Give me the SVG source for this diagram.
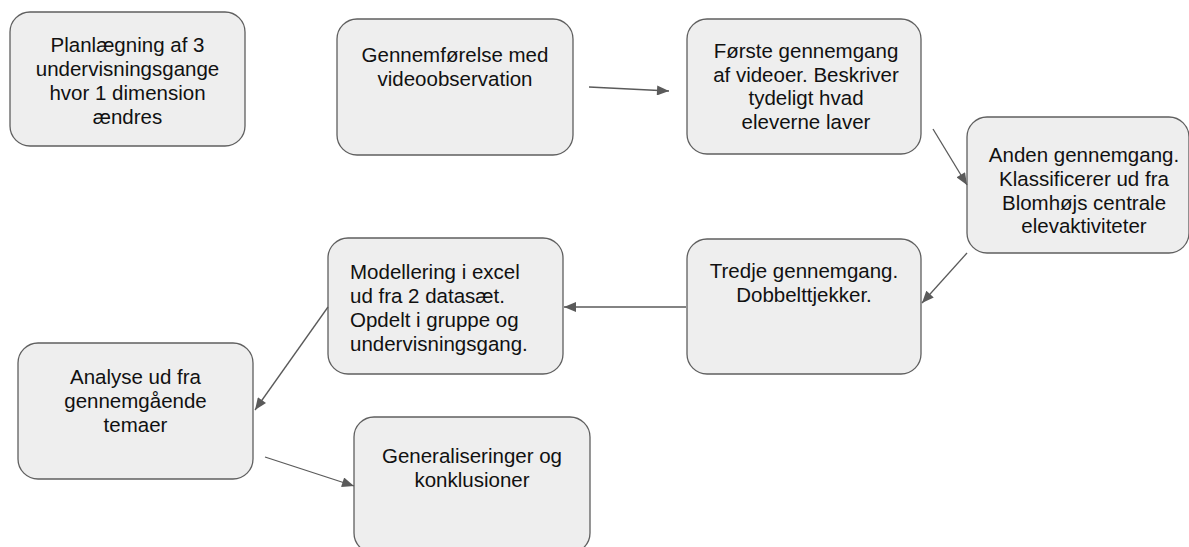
<svg xmlns="http://www.w3.org/2000/svg" width="1189" height="547" viewBox="0 0 1189 547">
<style>
.box{fill:#eeeeee;stroke:#5f5f5f;stroke-width:1.3}
.t{font-family:"Liberation Sans",Arial,sans-serif;font-size:20.5px;fill:#111111}
.c{text-anchor:middle}
.conn{stroke:#5a5a5a;stroke-width:1.3;fill:none;marker-end:url(#ah)}
</style>
<defs>
<marker id="ah" viewBox="0 0 12 10" refX="12" refY="5" markerWidth="13" markerHeight="10" orient="auto" markerUnits="userSpaceOnUse">
<path d="M0,0 L12,5 L0,10 Z" fill="#5a5a5a"/>
</marker>
</defs>
<rect width="1189" height="547" fill="#ffffff"/>
<g id="n1">
<rect class="box" x="10" y="12" width="235" height="134" rx="20"/>
<text class="t c" x="127.5"><tspan x="127.5" y="52">Planlægning af 3</tspan><tspan x="127.5" y="76">undervisningsgange</tspan><tspan x="127.5" y="100">hvor 1 dimension</tspan><tspan x="127.5" y="124">ændres</tspan></text>
</g>
<g id="n2">
<rect class="box" x="337" y="19" width="236" height="136" rx="20"/>
<text class="t c"><tspan x="455" y="62">Gennemførelse med</tspan><tspan x="455" y="86">videoobservation</tspan></text>
</g>
<g id="n3">
<rect class="box" x="687" y="19" width="234" height="135" rx="20"/>
<text class="t c"><tspan x="806" y="58">Første gennemgang</tspan><tspan x="806" y="81.5">af videoer. Beskriver</tspan><tspan x="806" y="105">tydeligt hvad</tspan><tspan x="806" y="128.5">eleverne laver</tspan></text>
</g>
<g id="n4">
<rect class="box" x="967" y="117" width="222" height="136" rx="20"/>
<text class="t c"><tspan x="1084" y="162">Anden gennemgang.</tspan><tspan x="1084" y="186">Klassificerer ud fra</tspan><tspan x="1084" y="209.5">Blomhøjs centrale</tspan><tspan x="1084" y="233">elevaktiviteter</tspan></text>
</g>
<g id="n5">
<rect class="box" x="687" y="239" width="234" height="135" rx="20"/>
<text class="t c"><tspan x="804" y="278">Tredje gennemgang.</tspan><tspan x="804" y="302">Dobbelttjekker.</tspan></text>
</g>
<g id="n6">
<rect class="box" x="328" y="238" width="235" height="136" rx="20"/>
<text class="t"><tspan x="350" y="279">Modellering i excel</tspan><tspan x="350" y="303">ud fra 2 datasæt.</tspan><tspan x="350" y="327">Opdelt i gruppe og</tspan><tspan x="350" y="351">undervisningsgang.</tspan></text>
</g>
<g id="n7">
<rect class="box" x="18" y="343" width="235" height="136" rx="20"/>
<text class="t c"><tspan x="135.5" y="384">Analyse ud fra</tspan><tspan x="135.5" y="408">gennemgående</tspan><tspan x="135.5" y="432">temaer</tspan></text>
</g>
<g id="n8">
<rect class="box" x="354" y="417" width="236" height="136" rx="20"/>
<text class="t c"><tspan x="472" y="463">Generaliseringer og</tspan><tspan x="472" y="487">konklusioner</tspan></text>
</g>
<g id="connectors">
<line class="conn" x1="589" y1="87" x2="669" y2="91"/>
<line class="conn" x1="933" y1="129" x2="967" y2="185"/>
<line class="conn" x1="967" y1="253" x2="922" y2="303"/>
<line class="conn" x1="686" y1="307" x2="564" y2="307"/>
<line class="conn" x1="328" y1="307" x2="255" y2="410"/>
<line class="conn" x1="265" y1="457" x2="354" y2="486"/>
</g>
</svg>
